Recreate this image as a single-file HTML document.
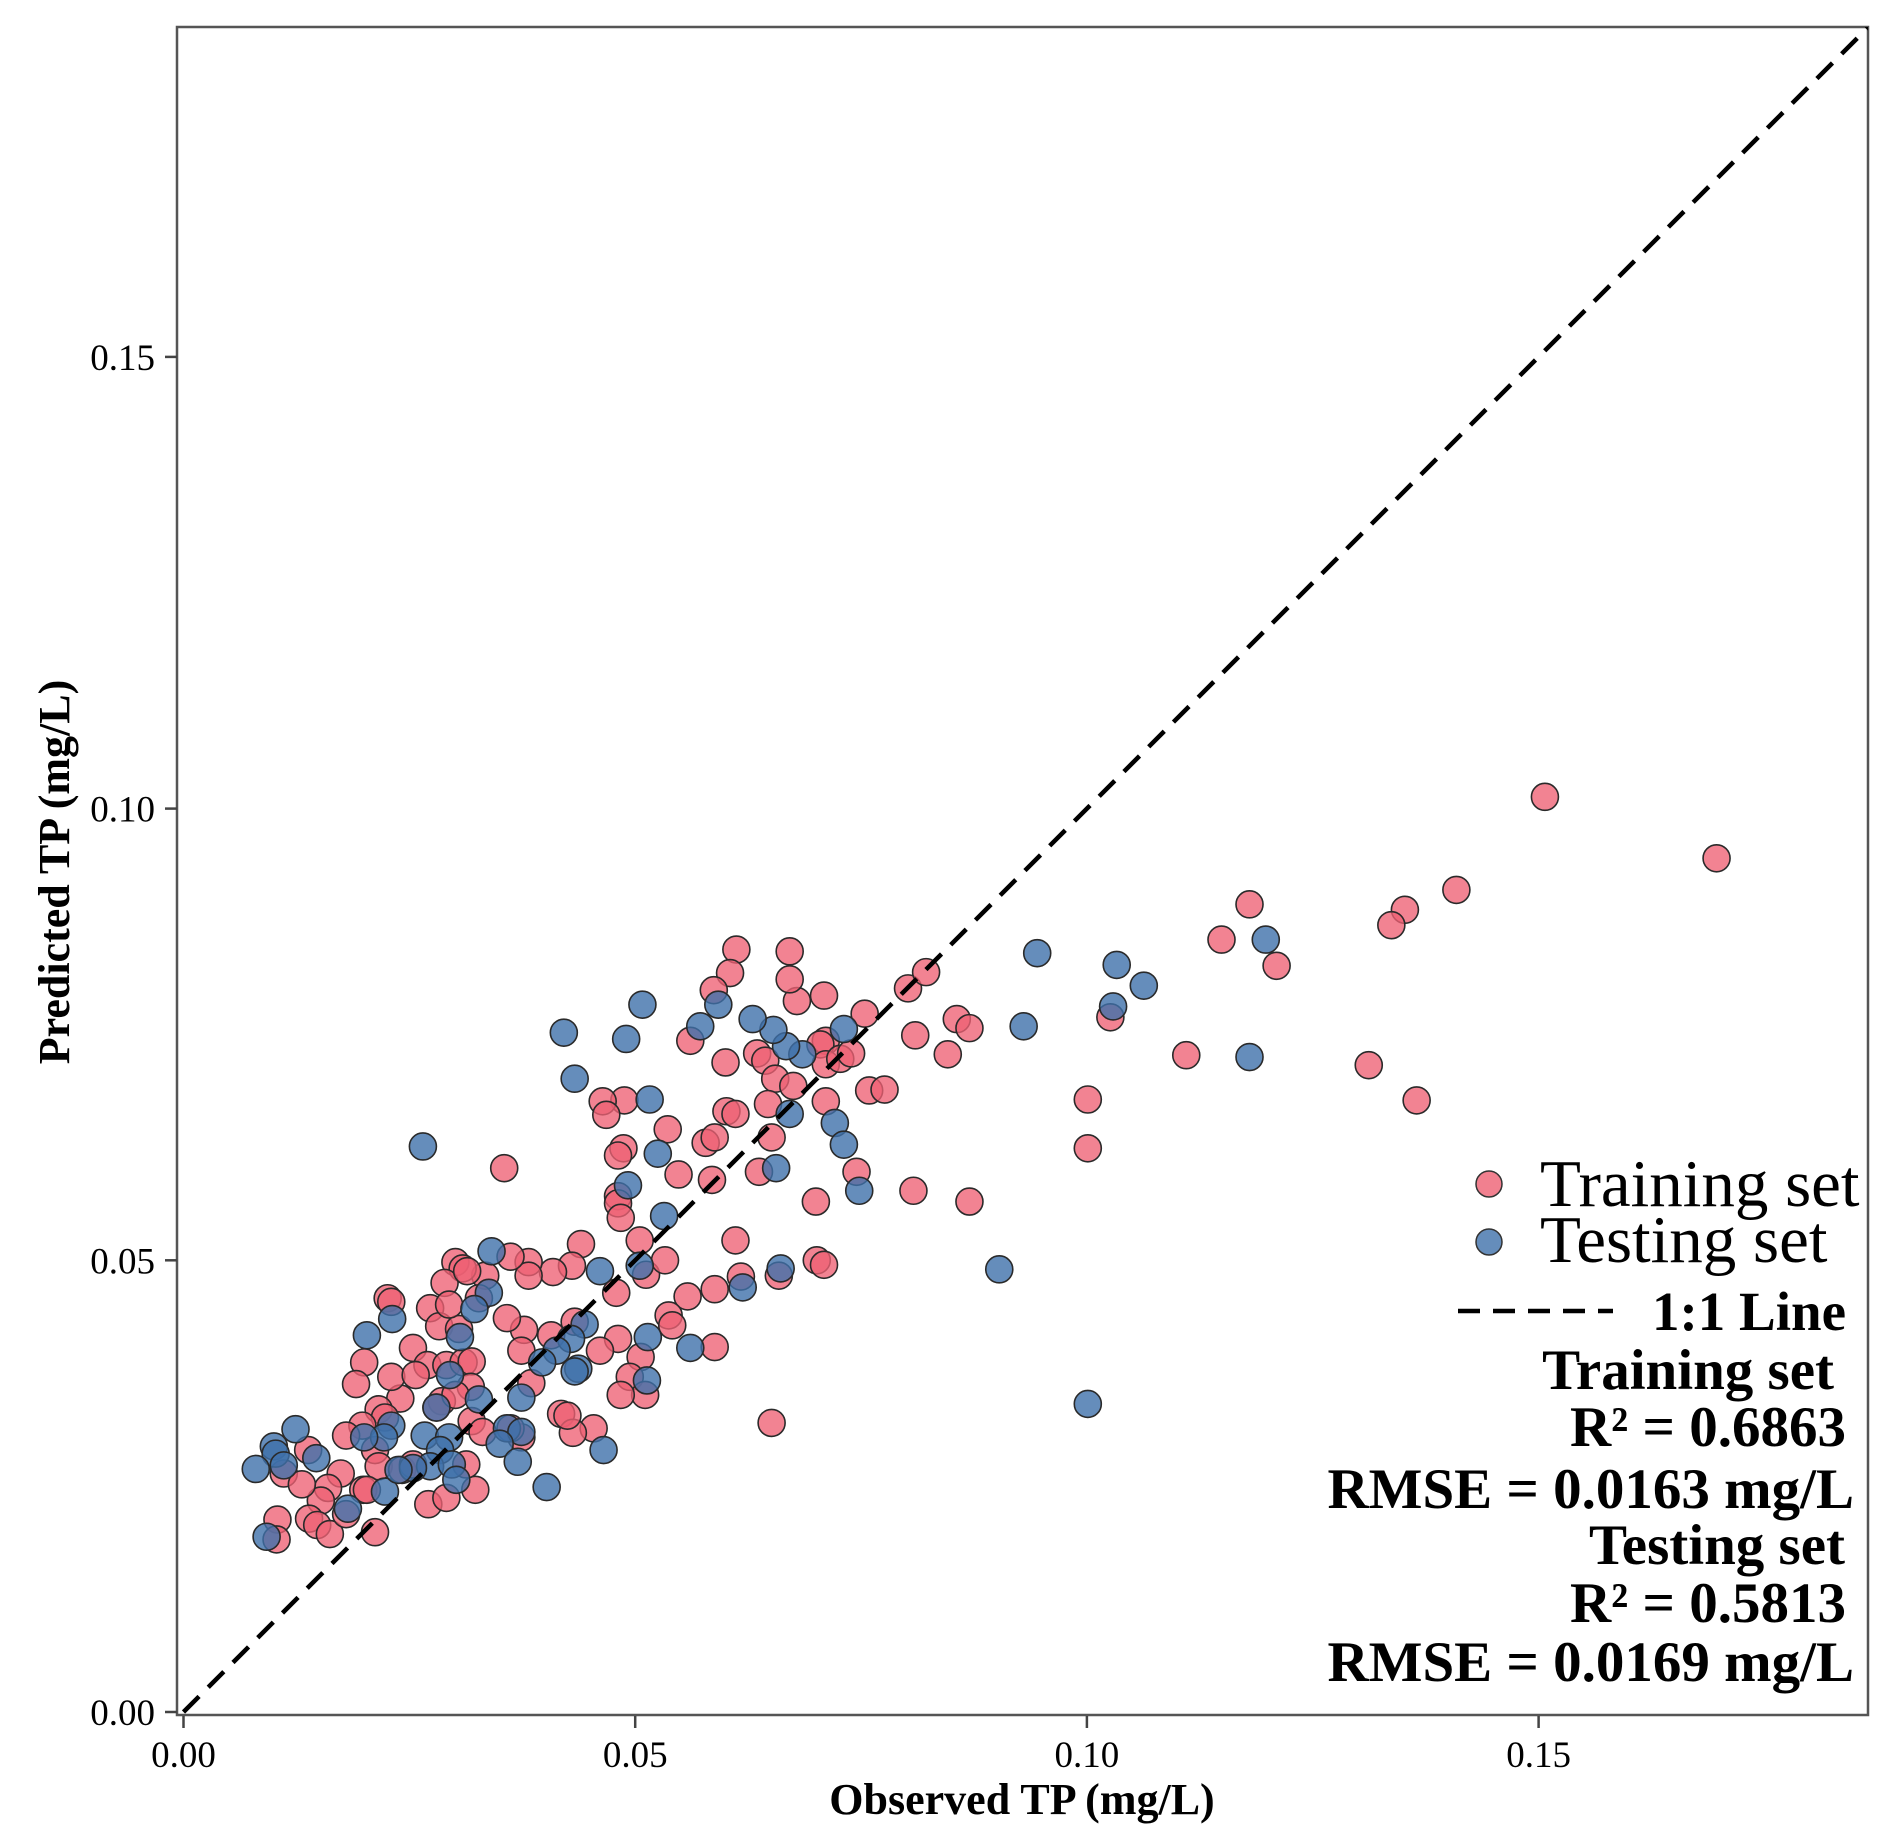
<!DOCTYPE html>
<html><head><meta charset="utf-8"><style>
html,body{margin:0;padding:0;background:#fff;}
svg{display:block;font-family:"Liberation Serif",serif;}
</style></head><body>
<svg id="chart" width="1894" height="1847" viewBox="0 0 1894 1847" xmlns="http://www.w3.org/2000/svg">
<defs><clipPath id="plotclip"><rect x="177" y="27" width="1691" height="1688"/></clipPath></defs>
<rect x="177" y="27" width="1691" height="1688" fill="#fff" stroke="#555" stroke-width="2.5"/>
<g id="ticks"></g>
<g id="marks" clip-path="url(#plotclip)"></g>
<text x="1022" y="1814" font-size="44" font-weight="bold" text-anchor="middle">Observed TP (mg/L)</text>
<text transform="translate(69,872) rotate(-90)" font-size="44" font-weight="bold" text-anchor="middle">Predicted TP (mg/L)</text>
<g>
<circle cx="1489" cy="1184" r="13" fill="rgba(238,96,115,0.8)" stroke="#333" stroke-width="1.5"/>
<text x="1540" y="1206" font-size="67">Training set</text>
<circle cx="1489" cy="1242" r="13" fill="rgba(62,112,170,0.8)" stroke="#333" stroke-width="1.5"/>
<text x="1540" y="1262" font-size="67">Testing set</text>
<line x1="1458" y1="1311" x2="1613" y2="1311" stroke="#000" stroke-width="4.5" stroke-dasharray="22,13"/>
<text x="1846" y="1330" font-size="55" font-weight="bold" text-anchor="end">1:1 Line</text>
</g>
<g font-weight="bold" font-size="57" text-anchor="end">
<text x="1834" y="1389">Training set</text>
<text x="1846" y="1446">R² = 0.6863</text>
<text x="1854" y="1508">RMSE = 0.0163 mg/L</text>
<text x="1845" y="1564">Testing set</text>
<text x="1846" y="1622">R² = 0.5813</text>
<text x="1854" y="1681">RMSE = 0.0169 mg/L</text>
</g>
</svg>
<script>
const xTicks = [0, 0.05, 0.10, 0.15];
const xTickLabels = ["0.00", "0.05", "0.10", "0.15"];
const yTicks = [0, 0.05, 0.10, 0.15];
const yTickLabels = ["0.00", "0.05", "0.10", "0.15"];
const trainX = [0.1507,0.1697,0.1409,0.1352,0.1337,0.1180,0.1149,0.1210,0.1312,0.1365,0.1110,0.1026,0.1001,0.1001,0.0802,0.0822,0.0810,0.0846,0.0856,0.0870,0.0808,0.0870,0.0754,0.0759,0.0776,0.0745,0.0709,0.0679,0.0671,0.0671,0.0612,0.0605,0.0587,0.0600,0.0601,0.0611,0.0561,0.0578,0.0588,0.0635,0.0644,0.0655,0.0675,0.0647,0.0651,0.0637,0.0711,0.0705,0.0711,0.0727,0.0739,0.0711,0.0700,0.0701,0.0709,0.0659,0.0651,0.0611,0.0617,0.0588,0.0588,0.0558,0.0548,0.0536,0.0585,0.0488,0.0464,0.0468,0.0487,0.0481,0.0481,0.0481,0.0484,0.0505,0.0512,0.0533,0.0537,0.0541,0.0506,0.0494,0.0511,0.0484,0.0481,0.0479,0.0461,0.0454,0.0440,0.0430,0.0433,0.0409,0.0382,0.0382,0.0377,0.0374,0.0358,0.0362,0.0355,0.0334,0.0301,0.0309,0.0289,0.0273,0.0283,0.0254,0.0270,0.0291,0.0310,0.0319,0.0318,0.0286,0.0280,0.0301,0.0319,0.0240,0.0230,0.0226,0.0230,0.0200,0.0191,0.0216,0.0223,0.0198,0.0180,0.0212,0.0216,0.0242,0.0254,0.0199,0.0203,0.0174,0.0160,0.0152,0.0139,0.0148,0.0162,0.0180,0.0212,0.0104,0.0103,0.0111,0.0131,0.0138,0.0271,0.0291,0.0323,0.0313,0.0331,0.0374,0.0362,0.0418,0.0431,0.0425,0.0407,0.0385,0.0305,0.0327,0.0314,0.0294,0.0257];
const trainY = [0.1013,0.0945,0.0910,0.0888,0.0871,0.0894,0.0855,0.0826,0.0716,0.0677,0.0727,0.0769,0.0678,0.0624,0.0801,0.0819,0.0749,0.0728,0.0767,0.0757,0.0577,0.0565,0.0773,0.0688,0.0689,0.0598,0.0793,0.0787,0.0842,0.0811,0.0844,0.0818,0.0799,0.0719,0.0665,0.0662,0.0743,0.0630,0.0636,0.0729,0.0721,0.0701,0.0693,0.0673,0.0636,0.0598,0.0743,0.0739,0.0717,0.0723,0.0729,0.0676,0.0565,0.0500,0.0495,0.0483,0.0320,0.0522,0.0482,0.0468,0.0404,0.0460,0.0595,0.0645,0.0589,0.0677,0.0676,0.0661,0.0624,0.0616,0.0571,0.0563,0.0547,0.0522,0.0484,0.0500,0.0439,0.0428,0.0393,0.0371,0.0351,0.0351,0.0413,0.0464,0.0400,0.0314,0.0518,0.0494,0.0432,0.0487,0.0498,0.0483,0.0423,0.0400,0.0436,0.0504,0.0602,0.0483,0.0498,0.0491,0.0475,0.0447,0.0427,0.0403,0.0384,0.0384,0.0387,0.0388,0.0360,0.0344,0.0337,0.0351,0.0322,0.0347,0.0371,0.0458,0.0454,0.0387,0.0363,0.0335,0.0326,0.0317,0.0306,0.0290,0.0272,0.0268,0.0274,0.0246,0.0246,0.0264,0.0248,0.0234,0.0214,0.0207,0.0197,0.0219,0.0199,0.0213,0.0191,0.0264,0.0252,0.0290,0.0230,0.0237,0.0246,0.0274,0.0310,0.0304,0.0314,0.0330,0.0309,0.0328,0.0417,0.0364,0.0424,0.0458,0.0488,0.0451,0.0373];
const testX = [0.1198,0.1063,0.1033,0.1029,0.0945,0.0930,0.1180,0.0903,0.1001,0.0731,0.0685,0.0667,0.0653,0.0630,0.0592,0.0572,0.0508,0.0490,0.0721,0.0731,0.0671,0.0656,0.0748,0.0661,0.0619,0.0561,0.0514,0.0513,0.0505,0.0492,0.0516,0.0532,0.0525,0.0433,0.0421,0.0265,0.0341,0.0338,0.0322,0.0461,0.0444,0.0429,0.0437,0.0413,0.0397,0.0433,0.0374,0.0306,0.0295,0.0327,0.0280,0.0267,0.0294,0.0284,0.0273,0.0297,0.0254,0.0302,0.0358,0.0374,0.0350,0.0370,0.0402,0.0465,0.0203,0.0231,0.0230,0.0222,0.0200,0.0124,0.0100,0.0102,0.0111,0.0080,0.0147,0.0182,0.0223,0.0092,0.0238];
const testY = [0.0855,0.0804,0.0827,0.0781,0.0840,0.0759,0.0725,0.0490,0.0341,0.0756,0.0728,0.0737,0.0755,0.0767,0.0783,0.0759,0.0783,0.0745,0.0652,0.0628,0.0662,0.0602,0.0577,0.0491,0.0470,0.0403,0.0415,0.0367,0.0494,0.0583,0.0678,0.0549,0.0618,0.0701,0.0752,0.0626,0.0510,0.0464,0.0446,0.0488,0.0429,0.0413,0.0380,0.0400,0.0387,0.0377,0.0348,0.0415,0.0373,0.0346,0.0337,0.0306,0.0304,0.0290,0.0272,0.0274,0.0270,0.0257,0.0314,0.0310,0.0297,0.0277,0.0249,0.0290,0.0417,0.0435,0.0317,0.0304,0.0304,0.0313,0.0294,0.0286,0.0273,0.0269,0.0281,0.0225,0.0244,0.0194,0.0268];

const X0 = 183.5, Y0 = 1712, K = 9034;
function sx(v){ return X0 + v*K; }
function sy(v){ return Y0 - v*K; }
const NS = "http://www.w3.org/2000/svg";
const ticks = document.getElementById("ticks");
const marks = document.getElementById("marks");

xTicks.forEach((v,i)=>{
  const l = document.createElementNS(NS,"line");
  l.setAttribute("x1",sx(v)); l.setAttribute("x2",sx(v));
  l.setAttribute("y1",1716); l.setAttribute("y2",1728);
  l.setAttribute("stroke","#444"); l.setAttribute("stroke-width","2.5");
  
  
  ticks.appendChild(l);
  const t = document.createElementNS(NS,"text");
  t.setAttribute("x",sx(v)); t.setAttribute("y",1767);
  t.setAttribute("font-size","37"); t.setAttribute("text-anchor","middle");
  t.textContent = xTickLabels[i];
  
  
  ticks.appendChild(t);
});
yTicks.forEach((v,i)=>{
  const l = document.createElementNS(NS,"line");
  l.setAttribute("x1",165); l.setAttribute("x2",177);
  l.setAttribute("y1",sy(v)); l.setAttribute("y2",sy(v));
  l.setAttribute("stroke","#444"); l.setAttribute("stroke-width","2.5");
  
  
  ticks.appendChild(l);
  const t = document.createElementNS(NS,"text");
  t.setAttribute("x",155); t.setAttribute("y",sy(v)+13);
  t.setAttribute("font-size","37"); t.setAttribute("text-anchor","end");
  t.textContent = yTickLabels[i];
  
  
  ticks.appendChild(t);
});

function drawPoints(xs, ys, fill, name){
  xs.forEach((v,i)=>{
    const c = document.createElementNS(NS,"circle");
    c.setAttribute("cx",sx(v)); c.setAttribute("cy",sy(ys[i]));
    c.setAttribute("r","13.5"); c.setAttribute("fill",fill);
    c.setAttribute("stroke","#2a2a2a"); c.setAttribute("stroke-width","1.6");
    
    
    marks.appendChild(c);
  });
}
drawPoints(trainX, trainY, "rgba(238,96,115,0.78)", "training-point");
drawPoints(testX, testY, "rgba(62,112,170,0.8)", "testing-point");

const ref = document.createElementNS(NS,"line");
ref.setAttribute("x1",sx(0)); ref.setAttribute("y1",sy(0));
ref.setAttribute("x2",sx(0.19)); ref.setAttribute("y2",sy(0.19));
ref.setAttribute("stroke","#000"); ref.setAttribute("stroke-width","4.5");
ref.setAttribute("stroke-dasharray","22,13");


marks.appendChild(ref);
</script>
</body></html>
